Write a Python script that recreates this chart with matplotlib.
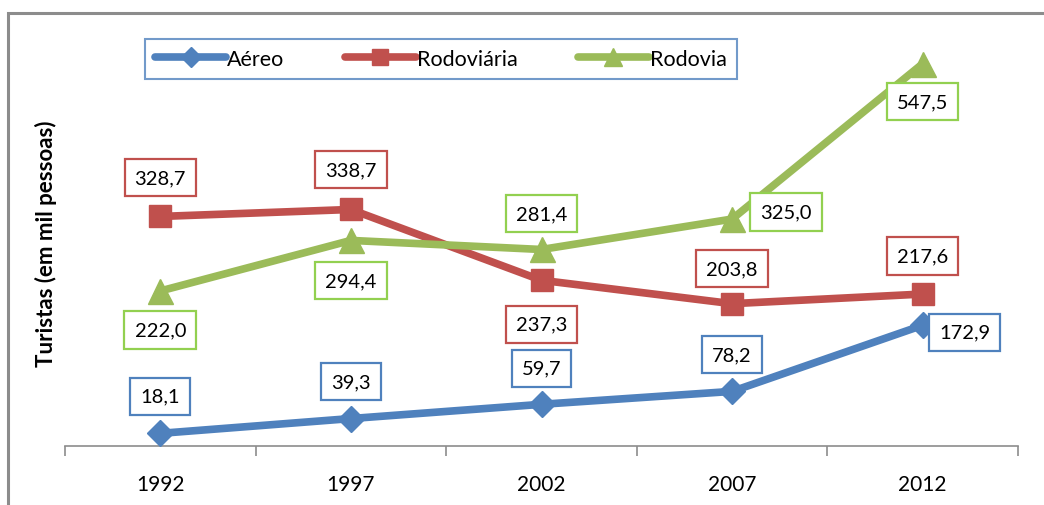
import matplotlib.pyplot as plt
from matplotlib.patches import Rectangle

# data
anos = ["1992", "1997", "2002", "2007", "2012"]
aereo = [18.1, 39.3, 59.7, 78.2, 172.9]
rodoviaria = [328.7, 338.7, 237.3, 203.8, 217.6]
rodovia = [222.0, 294.4, 281.4, 325.0, 547.5]

# label offsets (pixels) from each point
off_aereo = [(0, 37), (0, 37), (0, 36), (0, 37), (42, -7)]
off_rodoviaria = [(0, 39), (0, 40), (0, -44), (0, 35), (0, 38)]
off_rodovia = [(0, -39), (0, -40), (0, 36), (54, 7), (0, -38)]

plt.rcParams['font.family'] = ['Lato', 'DejaVu Sans']

fig = plt.figure(figsize=(10.44, 5.06), dpi=100)
W, H = 1044, 506
ax = fig.add_axes([65 / W, (H - 447) / H, (1018 - 65) / W, (447 - 28) / H])

# outer frame (cropped at right/bottom)
fig.patches.append(Rectangle((8 / W, -0.2), 1.2, (H - 14) / H + 0.2,
                             transform=fig.transFigure, fill=False,
                             edgecolor='#8c8c8c', linewidth=2.2))

x = list(range(len(anos)))
series = [
    ("Aéreo", aereo, '#4F81BD', 'D', 13, '#4F81BD', off_aereo),
    ("Rodoviária", rodoviaria, '#C0504D', 's', 16, '#C0504D', off_rodoviaria),
    ("Rodovia", rodovia, '#9BBB59', '^', 18, '#92D050', off_rodovia),
]

for name, vals, col, mk, ms, boxcol, offs in series:
    ax.plot(x, vals, color=col, linewidth=5.5, marker=mk, markersize=ms,
            markerfacecolor=col, markeredgecolor=col, label=name,
            solid_capstyle='round', zorder=3)
    for xi, v, (dx, dy) in zip(x, vals, offs):
        ax.annotate(f"{v:.1f}".replace(".", ","), (xi, v),
                    xytext=(dx, dy), textcoords='offset pixels',
                    ha='center', va='center', fontsize=14.5,
                    bbox=dict(boxstyle='square,pad=0.5', facecolor='white',
                              edgecolor=boxcol, linewidth=1.6),
                    zorder=5)

ax.set_xlim(-0.5, 4.5)
ax.set_ylim(0, 600)
ax.set_xticks(x)
ax.set_xticklabels(anos, fontsize=15)
ax.set_xticks([i - 0.5 for i in range(len(anos) + 1)], minor=True)
ax.tick_params(axis='x', which='major', length=0, pad=20)
ax.tick_params(axis='x', which='minor', length=7, width=1.2, color='#8c8c8c')
ax.set_yticks([])
for s in ['top', 'right', 'left']:
    ax.spines[s].set_visible(False)
ax.spines['bottom'].set_color('#8c8c8c')
ax.spines['bottom'].set_linewidth(1.2)

fig.text(46 / W, (H - 244) / H, "Turistas (em mil pessoas)", rotation=90,
         ha='center', va='center', fontsize=16, fontweight='bold')

leg = ax.legend(loc='center', bbox_to_anchor=(441 / W, (H - 60) / H),
                bbox_transform=fig.transFigure, ncol=3, frameon=True,
                fancybox=False, fontsize=15.5, handlelength=3.3,
                handletextpad=0.05, columnspacing=2.8, borderpad=0.45,
                borderaxespad=0, markerscale=0.75)
leg.get_frame().set_edgecolor('#4F81BD')
leg.get_frame().set_linewidth(1.5)

fig.savefig("out.png", dpi=100)
